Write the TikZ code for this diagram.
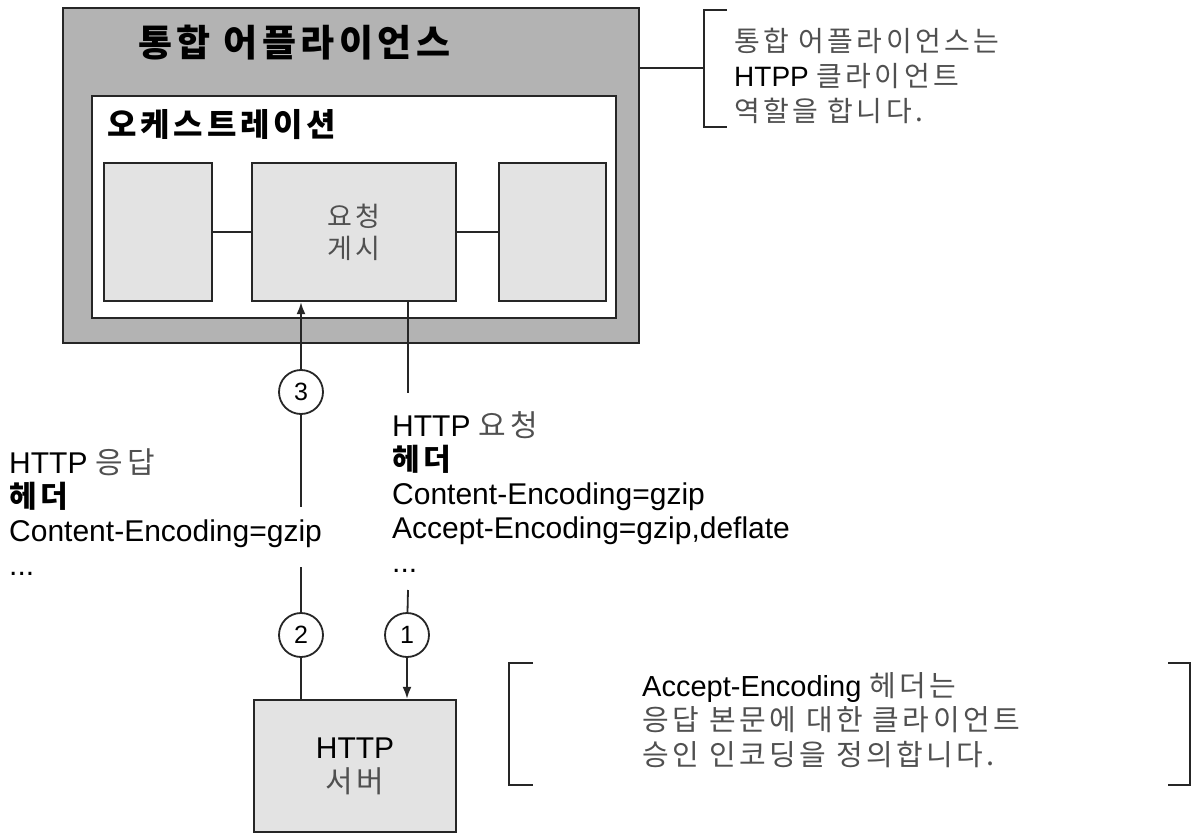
\documentclass[tikz,border=0pt]{standalone}
\usepackage{fontspec}
\setmainfont{Liberation Sans}
\newfontfamily\kr{Noto Sans CJK KR}[LetterSpace=12]
\usetikzlibrary{arrows.meta}
\definecolor{outerfill}{HTML}{B3B3B3}
\definecolor{boxfill}{HTML}{E3E3E3}
\definecolor{kgray}{HTML}{505050}
\newcommand{\ko}[1]{{\kr\color{kgray}#1}}

\begin{document}
\begin{tikzpicture}[x=1pt, y=-1pt, >={Latex[length=12pt,width=9pt]},
  box/.style={draw=black!85, line width=2.4pt, inner sep=0pt},
  lnk/.style={draw=black!85, line width=1.8pt},
  num/.style={circle, draw=black!85, line width=1.8pt, fill=white,
    minimum size=44pt, inner sep=0pt, font=\fontsize{25}{25}\selectfont},
  txt/.style={inner sep=0pt, anchor=north west, align=left,
    font=\fontsize{30}{34}\selectfont}]
  \useasboundingbox (0,0) rectangle (1194,840);

  %% Appliance and orchestration
  \node[box, fill=outerfill, minimum width=576pt, minimum height=335pt] (app) at (351,175.5) {};
  \node[anchor=west, inner sep=0pt, font=\kr\bfseries\fontsize{37}{37}\selectfont] (apptitle) at (138,43) {통합 어플라이언스};
  \node[box, fill=white, minimum width=524pt, minimum height=222pt] (orch) at (354,207) {};
  \node[anchor=west, inner sep=0pt, font=\kr\bfseries\fontsize{32}{32}\selectfont] (orchtitle) at (107,125) {오케스트레이션};
  \node[box, fill=boxfill, minimum width=108pt, minimum height=138pt] (lbox) at (158,232) {};
  \node[box, fill=boxfill, minimum width=204pt, minimum height=138pt, align=center,
    font=\kr\fontsize{27}{32}\selectfont, text=kgray] (post) at (354,232) {요청\\게시};
  \node[box, fill=boxfill, minimum width=107pt, minimum height=138pt] (rbox) at (552.5,232) {};
  \draw[lnk] (lbox) -- (post);
  \draw[lnk] (post) -- (rbox);

  %% HTTP server
  \node[box, fill=boxfill, minimum width=202pt, minimum height=132pt, align=center,
    font=\fontsize{30}{34}\selectfont] (srv) at (355,766) {HTTP\\\ko{서버}};

  %% Numbered steps
  \node[num] (c3) at (301,392) {3};
  \node[num] (c2) at (301,635) {2};
  \node[num] (c1) at (407,635) {1};
  \coordinate (g3) at (301,507);
  \coordinate (g2) at (301,567);
  \coordinate (rq) at (408,393);
  \coordinate (rq2) at (408,590);
  \draw[lnk, ->] (c3) -- (c3 |- post.south);
  \draw[lnk] (c3) -- (g3);
  \draw[lnk] (g2) -- (c2);
  \draw[lnk] (c2) -- (c2 |- srv.north);
  \draw[lnk] (rq |- post.south) -- (rq);
  \draw[lnk] (rq2) -- (c1);
  \draw[lnk, ->] (c1) -- (c1 |- srv.north);

  %% Header texts
  \node[txt] (resp) at (9,448) {HTTP \ko{응답}\\{\kr\bfseries 헤더}\\Content-Encoding=gzip\\...};
  \node[txt] (req) at (392,411) {HTTP \ko{요청}\\{\kr\bfseries 헤더}\\Content-Encoding=gzip\\Accept-Encoding=gzip,deflate\\...};

  %% Notes
  \coordinate (brk1) at (704,68);
  \draw[lnk] (app.east |- brk1) -- (brk1);
  \draw[lnk] (727,10) -- (704,10) -- (704,127) -- (727,127);
  \node[txt, font=\fontsize{28}{35}\selectfont] (note1) at (734,28) {\ko{통합 어플라이언스는}\\HTPP \ko{클라이언트}\\\ko{역할을 합니다.}};
  \draw[lnk] (533,663) -- (509,663) -- (509,785) -- (533,785);
  \draw[lnk] (1168,663) -- (1190,663) -- (1190,785) -- (1168,785);
  \node[txt, font=\fontsize{29}{34.5}\selectfont] (note2) at (642,672) {Accept-Encoding \ko{헤더는}\\\ko{응답 본문에 대한 클라이언트}\\\ko{승인 인코딩을 정의합니다.}};
\end{tikzpicture}
\end{document}
